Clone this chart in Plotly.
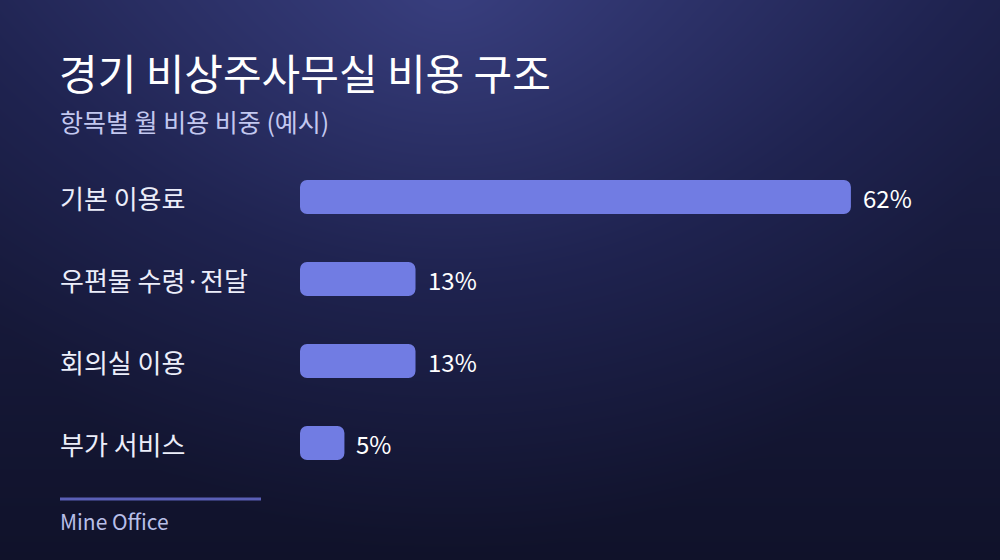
import numpy as np
import plotly.graph_objects as go

# 데이터
categories = ['기본 이용료', '우편물 수령·전달', '회의실 이용', '부가 서비스']
shares = [62, 13, 13, 5]
value_labels = ['62%', '13%', '13%', '5%']

title = '경기 비상주사무실 비용 구조'
subtitle = '항목별 월 비용 비중 (예시)'
source = 'Mine Office'

W, H = 1000, 560
FONT = 'Noto Sans CJK KR'
BAR = '#717ce3'

# 배경 그라데이션 (위쪽 가운데가 밝음)
gx = np.linspace(0, W, 101)
gy = np.linspace(0, H, 57)
XX, YY = np.meshgrid(gx, gy)
dist = np.sqrt((XX - 450) ** 2 + (YY + 10) ** 2)
t = 0.45 * (1 - YY / H) + 0.55 * np.clip(1 - dist / 560, 0, 1)

fig = go.Figure()
fig.add_trace(go.Heatmap(
    x=gx, y=gy, z=t, zmin=0, zmax=1, zsmooth='best',
    colorscale=[[0, '#10122a'], [0.5, '#1f2350'], [1, '#383e7e']],
    showscale=False, hoverinfo='skip', xaxis='x', yaxis='y'))

# base를 주면 막대 양쪽 끝이 모두 둥글게 그려짐
fig.add_trace(go.Bar(
    x=shares, base=[0] * len(shares), y=categories, orientation='h',
    marker=dict(color=BAR, line=dict(width=0)),
    width=0.415, hoverinfo='skip', xaxis='x2', yaxis='y2'))

# 항목 이름 (왼쪽 정렬)
for cat in categories:
    fig.add_annotation(x=0.06, y=cat, xref='paper', yref='y2',
                       text=cat, showarrow=False, xanchor='left',
                       yanchor='middle', xshift=-2,
                       font=dict(family=FONT, size=26, color='#eceefa'))

# 값 라벨
for cat, v, lab in zip(categories, shares, value_labels):
    fig.add_annotation(x=v, y=cat, xref='x2', yref='y2', text=lab,
                       showarrow=False, xanchor='left', yanchor='middle',
                       xshift=10,
                       font=dict(family=FONT, size=24, color='#ffffff'))

fig.add_annotation(x=0.06, y=1 - 71 / H, xref='paper', yref='paper',
                   text=title, showarrow=False, xanchor='left',
                   yanchor='middle', xshift=-3,
                   font=dict(family=FONT, size=42, color='#ffffff'))
fig.add_annotation(x=0.06, y=1 - 121 / H, xref='paper', yref='paper',
                   text=subtitle, showarrow=False, xanchor='left',
                   yanchor='middle', xshift=-2,
                   font=dict(family=FONT, size=25, color='#c3c8f0'))
fig.add_annotation(x=0.06, y=1 - 521 / H, xref='paper', yref='paper',
                   text=source, showarrow=False, xanchor='left',
                   yanchor='middle', xshift=-2,
                   font=dict(family=FONT, size=21, color='#b8bfe8'))

fig.add_shape(type='line', xref='paper', yref='paper',
              x0=0.06, x1=0.261, y0=1 - 499 / H, y1=1 - 499 / H,
              line=dict(color='#5a5fb6', width=3))

fig.update_layout(
    width=W, height=H,
    margin=dict(l=0, r=0, t=0, b=0),
    paper_bgcolor='#151836', plot_bgcolor='rgba(0,0,0,0)',
    showlegend=False, barcornerradius=7,
    xaxis=dict(domain=[0, 1], range=[0, W], visible=False, fixedrange=True),
    yaxis=dict(domain=[0, 1], range=[H, 0], visible=False, fixedrange=True),
    xaxis2=dict(domain=[0.3, 0.922], range=[0, 70], visible=False,
                anchor='y2'),
    yaxis2=dict(domain=[1 - 484 / H, 1 - 156 / H], autorange='reversed',
                visible=False, anchor='x2'),
)

fig.write_html('out.html', config={'displayModeBar': False},
               post_script="document.body.style.margin='0';")
